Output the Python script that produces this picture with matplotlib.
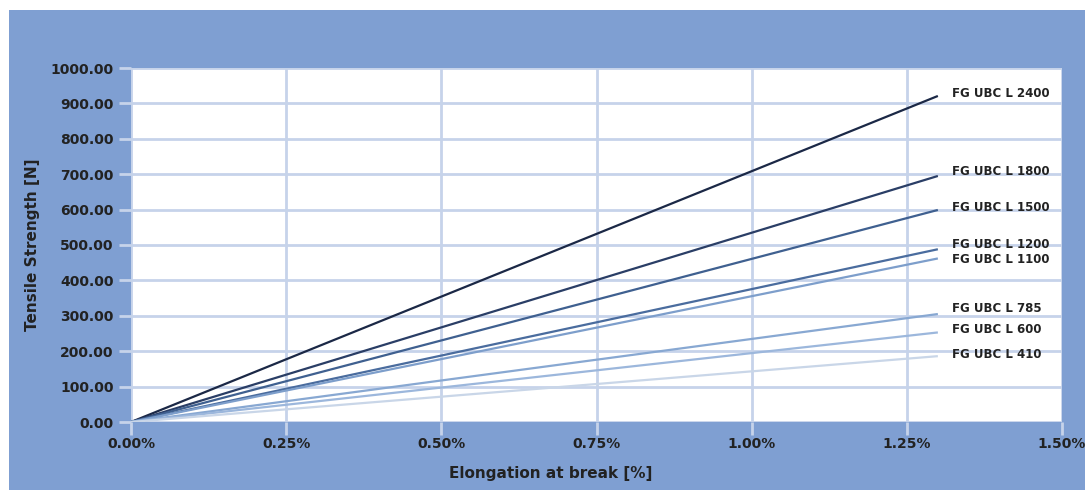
import numpy as np
import matplotlib.pyplot as plt
from matplotlib.patches import Rectangle
from matplotlib.ticker import FuncFormatter

plt.rcParams['font.family'] = ['DejaVu Sans']

names = ['FG UBC L 2400', 'FG UBC L 1800', 'FG UBC L 1500', 'FG UBC L 1200',
         'FG UBC L 1100', 'FG UBC L 785', 'FG UBC L 600', 'FG UBC L 410']
strain = [0.0, 1.30]  # elongation in %
strength_end = [921, 695, 599, 488, 462, 305, 253, 186]  # N at 1.30 %
label_y = [929, 709, 605, 500, 458, 322, 260, 192]
colors = ['#1b2846', '#2a3e66', '#3f6090', '#4a6c9e', '#7d9ecb',
          '#88a8d2', '#9cb7dc', '#c9d6e8']

bg = '#7f9fd2'
grid_c = '#c6d3ea'
txt = '#222222'

fig = plt.figure(figsize=(10.85, 4.9), dpi=100)
fig.patch.set_facecolor('white')
fig.patches.append(Rectangle((9/1085, 0), 1, 480/490, transform=fig.transFigure,
                             facecolor=bg, edgecolor='none', zorder=-10))
ax = fig.add_axes([131/1085, 68/490, 931/1085, 354/490])
ax.set_facecolor('white')

for n, v, ly, c in zip(names, strength_end, label_y, colors):
    ax.plot(strain, [0, v], color=c, lw=1.6, solid_capstyle='butt', zorder=3)
    ax.text(1.323, ly, n, fontsize=8.5, fontweight='bold', color=txt,
            va='center', ha='left', zorder=4)

ax.set_xlim(0, 1.5)
ax.set_ylim(0, 1000)
ax.set_xticks(np.arange(0, 1.51, 0.25))
ax.set_yticks(np.arange(0, 1001, 100))
ax.xaxis.set_major_formatter(FuncFormatter(lambda x, p: f'{x:.2f}%'))
ax.yaxis.set_major_formatter(FuncFormatter(lambda y, p: f'{y:.2f}'))
ax.grid(True, color=grid_c, lw=2, zorder=0)
ax.set_axisbelow(True)
for s in ax.spines.values():
    s.set_visible(False)
ax.tick_params(axis='both', colors=grid_c, width=2, length=9,
               labelcolor=txt, labelsize=10)
ax.tick_params(axis='x', pad=2)
for lab in ax.get_xticklabels() + ax.get_yticklabels():
    lab.set_fontweight('bold')

ax.set_xlabel('Elongation at break [%]', fontsize=11, fontweight='bold',
              color=txt)
ax.set_ylabel('Tensile Strength [N]', fontsize=11, fontweight='bold',
              color=txt)
ax.xaxis.set_label_coords(0.451, -0.125)
ax.yaxis.set_label_coords(-0.098, 0.5)

fig.savefig('out.png', dpi=100, facecolor=fig.get_facecolor())
